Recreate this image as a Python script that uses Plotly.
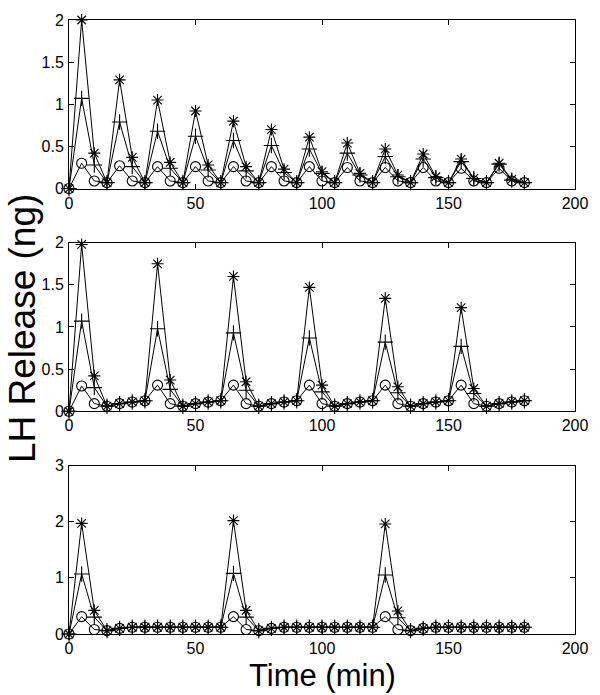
import plotly.graph_objects as go

time_min = [0, 5, 10, 15, 20, 25, 30, 35, 40, 45, 50, 55, 60, 65, 70, 75, 80, 85, 90,
            95, 100, 105, 110, 115, 120, 125, 130, 135, 140, 145, 150, 155, 160, 165,
            170, 175, 180]

# Panel 1: pulses every 15 min
star_p1 = [0, 2.00, 0.42, 0.07, 1.29, 0.37, 0.07, 1.05, 0.31, 0.07, 0.92, 0.28, 0.07,
           0.80, 0.26, 0.07, 0.70, 0.23, 0.07, 0.61, 0.20, 0.07, 0.54, 0.18, 0.07,
           0.47, 0.16, 0.07, 0.41, 0.14, 0.07, 0.35, 0.12, 0.07, 0.30, 0.11, 0.07]
plus_p1 = [0, 1.07, 0.28, 0.07, 0.79, 0.26, 0.07, 0.68, 0.24, 0.07, 0.62, 0.22, 0.07,
           0.57, 0.21, 0.07, 0.51, 0.19, 0.07, 0.47, 0.18, 0.07, 0.42, 0.16, 0.07,
           0.38, 0.14, 0.07, 0.35, 0.13, 0.07, 0.32, 0.12, 0.07, 0.29, 0.10, 0.07]
circ_p1 = [0, 0.30, 0.09, 0.07, 0.27, 0.09, 0.07, 0.26, 0.09, 0.07, 0.26, 0.09, 0.07,
           0.26, 0.09, 0.07, 0.26, 0.09, 0.07, 0.26, 0.09, 0.07, 0.25, 0.09, 0.07,
           0.25, 0.09, 0.07, 0.25, 0.09, 0.07, 0.24, 0.09, 0.07, 0.24, 0.09, 0.07]

# Panel 2: pulses every 30 min
star_p2 = [0, 1.98, 0.42, 0.06, 0.09, 0.11, 0.125, 1.75, 0.37, 0.06, 0.09, 0.11, 0.125,
           1.60, 0.35, 0.06, 0.09, 0.11, 0.125, 1.47, 0.31, 0.06, 0.09, 0.11, 0.125,
           1.34, 0.29, 0.06, 0.09, 0.11, 0.125, 1.23, 0.27, 0.06, 0.09, 0.11, 0.125]
plus_p2 = [0, 1.07, 0.28, 0.06, 0.09, 0.11, 0.125, 0.98, 0.26, 0.06, 0.09, 0.11, 0.125,
           0.93, 0.25, 0.06, 0.09, 0.11, 0.125, 0.87, 0.23, 0.06, 0.09, 0.11, 0.125,
           0.82, 0.22, 0.06, 0.09, 0.11, 0.125, 0.77, 0.21, 0.06, 0.09, 0.11, 0.125]
circ_p2 = [0, 0.30, 0.09, 0.06, 0.09, 0.11, 0.125, 0.31, 0.09, 0.06, 0.09, 0.11, 0.125,
           0.31, 0.09, 0.06, 0.09, 0.11, 0.125, 0.31, 0.09, 0.06, 0.09, 0.11, 0.125,
           0.31, 0.09, 0.06, 0.09, 0.11, 0.125, 0.31, 0.09, 0.06, 0.09, 0.11, 0.125]

# Panel 3: pulses every 60 min
star_p3 = [0, 1.97, 0.42, 0.06, 0.10, 0.12, 0.12, 0.12, 0.12, 0.12, 0.12, 0.12, 0.12,
           2.02, 0.42, 0.06, 0.10, 0.12, 0.12, 0.12, 0.12, 0.12, 0.12, 0.12, 0.12,
           1.96, 0.41, 0.06, 0.10, 0.12, 0.12, 0.12, 0.12, 0.12, 0.12, 0.12, 0.12]
plus_p3 = [0, 1.07, 0.30, 0.06, 0.10, 0.12, 0.12, 0.12, 0.12, 0.12, 0.12, 0.12, 0.12,
           1.08, 0.30, 0.06, 0.10, 0.12, 0.12, 0.12, 0.12, 0.12, 0.12, 0.12, 0.12,
           1.05, 0.29, 0.06, 0.10, 0.12, 0.12, 0.12, 0.12, 0.12, 0.12, 0.12, 0.12]
circ_p3 = [0, 0.31, 0.08, 0.06, 0.10, 0.12, 0.12, 0.12, 0.12, 0.12, 0.12, 0.12, 0.12,
           0.31, 0.08, 0.06, 0.10, 0.12, 0.12, 0.12, 0.12, 0.12, 0.12, 0.12, 0.12,
           0.31, 0.08, 0.06, 0.10, 0.12, 0.12, 0.12, 0.12, 0.12, 0.12, 0.12, 0.12]

x_ticks = [0, 50, 100, 150, 200]
y_ticks_12 = [0, 0.5, 1, 1.5, 2]
y_ticks_3 = [0, 1, 2, 3]

FONT = "Liberation Sans, Arial, Helvetica, sans-serif"

fig = go.Figure()

panels = [
    (star_p1, plus_p1, circ_p1, "x", "y"),
    (star_p2, plus_p2, circ_p2, "x2", "y2"),
    (star_p3, plus_p3, circ_p3, "x3", "y3"),
]
for star, plus, circ, xa, ya in panels:
    for vals, sym, size in ((star, "asterisk-open", 10),
                            (plus, "cross-thin-open", 11),
                            (circ, "circle-open", 10)):
        fig.add_trace(go.Scatter(
            x=time_min, y=vals, xaxis=xa, yaxis=ya, mode="lines+markers",
            line=dict(color="black", width=1),
            marker=dict(symbol=sym, size=size, color="black",
                        line=dict(color="black", width=1.1)),
            showlegend=False, cliponaxis=False))

def xax(anchor):
    return dict(range=[0, 200], tickvals=x_ticks, ticks="inside", ticklen=5,
                showline=True, linecolor="black", linewidth=1, mirror="ticks",
                showgrid=False, zeroline=False, anchor=anchor,
                tickfont=dict(size=16, color="black", family=FONT),
                tickcolor="black")

def yax(anchor, rng, tv, dom):
    return dict(range=rng, tickvals=tv, ticks="inside", ticklen=5,
                showline=True, linecolor="black", linewidth=1, mirror="ticks",
                showgrid=False, zeroline=False, anchor=anchor, domain=dom,
                tickfont=dict(size=16, color="black", family=FONT),
                tickcolor="black", ticklabelstandoff=1)

fig.update_layout(
    width=600, height=695,
    margin=dict(l=69, r=22, t=16, b=61),
    plot_bgcolor="white", paper_bgcolor="white",
    font=dict(family=FONT, color="black"),
    xaxis=xax("y"), xaxis2=xax("y2"), xaxis3=xax("y3"),
    yaxis=yax("x", [0, 2], y_ticks_12, [0.7255, 1.0]),
    yaxis2=yax("x2", [0, 2], y_ticks_12, [0.3628, 0.6372]),
    yaxis3=yax("x3", [0, 3], y_ticks_3, [0.0, 0.2743]),
    annotations=[
        dict(text="Time (min)", xref="paper", yref="paper", x=0.5, y=-0.0674,
             xanchor="center", yanchor="middle", showarrow=False,
             font=dict(size=31, color="black", family=FONT)),
        dict(text="LH Release (ng)", xref="paper", yref="paper", x=-0.0904, y=0.497,
             xanchor="center", yanchor="middle", textangle=-90, showarrow=False,
             font=dict(size=37, color="black", family=FONT)),
    ],
)

fig.write_html(
    "out.html",
    config={"displayModeBar": False},
    post_script="document.body.style.margin='0';document.body.style.overflow='hidden';",
)
